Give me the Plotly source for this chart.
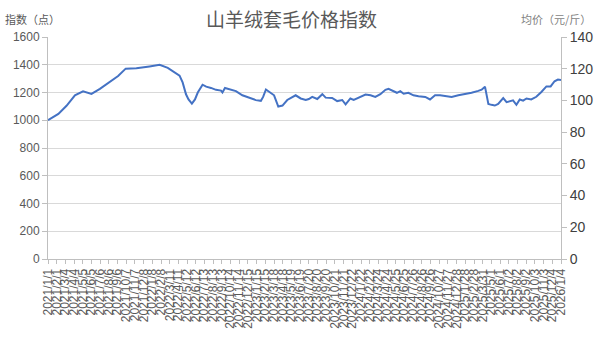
import pandas as pd
import plotly.graph_objects as go

dates = [
    "2021-01-01", "2021-02-07", "2021-03-08", "2021-04-07", "2021-05-06", "2021-06-05",
    "2021-07-05", "2021-08-09", "2021-09-08", "2021-10-05", "2021-11-12", "2021-12-29",
    "2022-02-03", "2022-03-04", "2022-03-28", "2022-04-15", "2022-04-26", "2022-05-08",
    "2022-05-17", "2022-05-29", "2022-06-09", "2022-06-19", "2022-07-06", "2022-07-19",
    "2022-08-05", "2022-08-23", "2022-09-10", "2022-09-15", "2022-09-24", "2022-10-15",
    "2022-11-02", "2022-11-25", "2022-12-19", "2023-01-12", "2023-01-30", "2023-02-07",
    "2023-02-17", "2023-03-06", "2023-03-18", "2023-04-02", "2023-04-17", "2023-05-04",
    "2023-05-22", "2023-06-03", "2023-06-21", "2023-07-09", "2023-07-20", "2023-08-01",
    "2023-08-19", "2023-09-06", "2023-09-18", "2023-10-11", "2023-10-29", "2023-11-16",
    "2023-11-28", "2023-12-15", "2023-12-27", "2024-01-14", "2024-02-07", "2024-02-25",
    "2024-03-13", "2024-03-31", "2024-04-18", "2024-04-29", "2024-05-11", "2024-05-29",
    "2024-06-10", "2024-06-22", "2024-07-09", "2024-07-27", "2024-08-14", "2024-09-07",
    "2024-09-24", "2024-10-12", "2024-10-30", "2024-11-17", "2024-12-10", "2025-01-03",
    "2025-01-27", "2025-02-19", "2025-03-15", "2025-03-27", "2025-04-08", "2025-04-14",
    "2025-04-20", "2025-05-01", "2025-05-13", "2025-05-25", "2025-06-12", "2025-06-24",
    "2025-07-11", "2025-07-17", "2025-07-29", "2025-08-10", "2025-08-22", "2025-09-03",
    "2025-09-20", "2025-10-08", "2025-10-26", "2025-11-13", "2025-11-28", "2025-12-12",
    "2025-12-24", "2026-01-04",
]
index_values = [
    1000, 1046, 1104, 1180, 1208, 1190,
    1226, 1277, 1319, 1372, 1374, 1388,
    1400, 1378, 1343, 1322, 1273, 1187,
    1150, 1120, 1150, 1200, 1256, 1242,
    1233, 1219, 1214, 1200, 1233, 1219,
    1210, 1180, 1163, 1145, 1140, 1168,
    1222, 1200, 1180, 1099, 1106, 1146,
    1163, 1180, 1157, 1146, 1153, 1168,
    1153, 1188, 1163, 1161, 1138, 1146,
    1115, 1157, 1146, 1163, 1185, 1180,
    1168, 1188, 1219, 1226, 1214, 1198,
    1210, 1191, 1198, 1180, 1173, 1168,
    1150, 1180, 1180, 1175, 1168, 1180,
    1188, 1198, 1212, 1220, 1242, 1180,
    1117, 1111, 1106, 1117, 1160, 1130,
    1137, 1143, 1111, 1150, 1141, 1157,
    1150, 1169, 1204, 1244, 1244, 1281,
    1293, 1290,
]

title_text = "山羊绒套毛价格指数"
left_axis_title = "指数（点）"
right_axis_title = "均价（元/斤）"

tick_dates = pd.date_range("2021-01-01", "2026-01-04", freq="31D")
tick_text = [f"{d.year}/{d.month}/{d.day}" for d in tick_dates]

grey = "#595959"
axis_grey = "#BFBFBF"
cjk = "Noto Sans CJK SC"

fig = go.Figure()
fig.add_trace(go.Scatter(
    x=dates, y=index_values, mode="lines",
    line=dict(color="#4472C4", width=2), showlegend=False,
))

fig.update_layout(
    width=605, height=341,
    margin=dict(l=48, r=42, t=37, b=74),
    paper_bgcolor="white", plot_bgcolor="white",
    showlegend=False,
    xaxis=dict(
        type="date",
        range=["2021-01-01", "2026-01-04"],
        tickvals=tick_dates, ticktext=tick_text,
        tickangle=-90,
        tickfont=dict(family="Liberation Sans, Arial", size=12, color=grey),
        showgrid=False, showline=True, linecolor=axis_grey, linewidth=1,
        ticks="outside", ticklen=4, tickcolor=axis_grey,
        zeroline=False,
    ),
    yaxis=dict(
        range=[0, 1600], dtick=200,
        tickfont=dict(family="Liberation Sans, Arial", size=12, color=grey),
        showgrid=True, gridcolor="#D9D9D9", gridwidth=1,
        showline=True, linecolor=axis_grey, linewidth=1,
        ticks="outside", ticklen=5, tickcolor=axis_grey,
        zeroline=False,
    ),
    yaxis2=dict(
        overlaying="y", side="right",
        range=[0, 140], dtick=20,
        tickfont=dict(family="Liberation Sans, Arial", size=14, color="#404040"),
        showgrid=False, showline=True, linecolor=axis_grey, linewidth=1,
        ticks="outside", ticklen=5, tickcolor=axis_grey,
        zeroline=False,
    ),
    annotations=[
        dict(text=title_text, x=292, y=18, xref="paper", yref="paper",
             xanchor="center", yanchor="middle",
             showarrow=False, font=dict(family=cjk, size=19, color=grey)),
        dict(text=left_axis_title, x=32, y=18, xref="paper", yref="paper",
             xanchor="center", yanchor="middle",
             showarrow=False, font=dict(family=cjk, size=11, color=grey)),
        dict(text=right_axis_title, x=558, y=18, xref="paper", yref="paper",
             xanchor="center", yanchor="middle",
             showarrow=False, font=dict(family=cjk, size=11, color="#7F7F7F")),
    ],
)

# convert pixel-positioned annotations to paper coordinates
pw = 605 - 48 - 42
ph = 341 - 37 - 74
for a in fig.layout.annotations:
    a.x = (a.x - 48) / pw
    a.y = (341 - 74 - a.y) / ph

# ensure the secondary axis renders
fig.add_trace(go.Scatter(x=[], y=[], yaxis="y2", showlegend=False))

fig.write_html("out.html")
